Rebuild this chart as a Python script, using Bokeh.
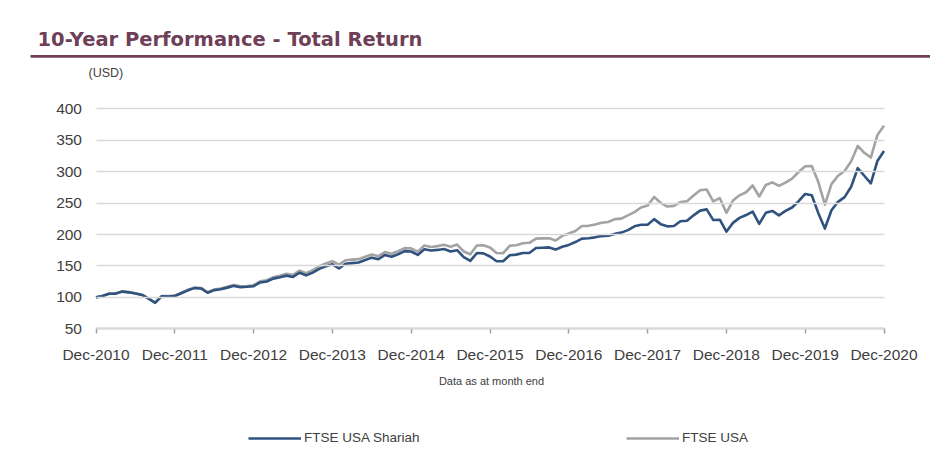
from bokeh.plotting import figure
from bokeh.models import (ColumnDataSource, FixedTicker, Legend, LegendItem, Range1d,
                          LinearAxis, Label, Arrow)
from bokeh.embed import file_html
from bokeh.resources import INLINE

# ---------------- data (month-end index values, Dec-2010 = 100) ----------------
months = list(range(121))  # 0 = Dec-2010 ... 120 = Dec-2020

ftse_usa = [
    100.0, 102.5, 106.0, 106.3, 109.5, 108.3, 106.5, 104.2, 98.5, 91.8, 102.2, 102.0,
    102.8, 107.5, 112.2, 115.6, 115.0, 108.2, 112.4, 114.0, 116.7, 119.6, 117.5, 118.2,
    119.3, 125.5, 127.3, 132.0, 134.4, 137.5, 135.7, 142.6, 138.5, 143.2, 149.5, 153.8,
    157.5, 152.0, 159.0, 160.0, 160.8, 164.5, 168.3, 165.5, 172.2, 169.5, 173.6, 178.3,
    178.0, 172.8, 182.5, 180.2, 181.5, 183.8, 180.6, 184.0, 173.0, 168.5, 182.5, 183.0,
    179.5, 170.5, 170.3, 182.0, 183.0, 186.0, 186.8, 193.5, 193.8, 194.0, 190.5, 197.8,
    201.5, 205.5, 213.5, 213.8, 216.0, 218.6, 220.0, 224.5, 225.3, 230.5, 235.7, 243.0,
    246.0, 259.8, 250.3, 244.5, 245.5, 251.5, 253.0, 262.0, 270.5, 271.5, 252.8, 257.8,
    234.5, 254.0, 262.3, 267.2, 278.0, 260.5, 278.8, 283.0, 277.5, 282.5, 288.8, 299.5,
    308.6, 309.0, 283.5, 247.5, 280.2, 293.5, 301.0, 316.5, 341.0, 330.0, 322.5, 358.5,
    373.0,
]

ftse_usa_shariah = [
    100.0, 102.3, 105.8, 106.0, 109.2, 108.0, 106.2, 103.8, 98.0, 91.3, 101.6, 101.3,
    102.1, 106.6, 111.2, 114.7, 114.2, 107.4, 111.5, 113.0, 115.5, 118.3, 116.2, 116.8,
    117.8, 123.7, 125.3, 129.8, 132.0, 134.6, 132.5, 139.2, 135.0, 139.4, 145.3, 149.3,
    152.6, 146.0, 153.5, 154.5, 155.6, 159.3, 163.2, 160.6, 167.5, 164.5, 168.6, 173.5,
    173.0, 167.5, 176.5, 174.5, 175.5, 177.0, 173.0, 175.0, 164.0, 158.0, 170.5, 170.0,
    165.0, 157.5, 157.5, 167.0, 168.0, 170.5, 170.5, 178.5, 179.0, 179.5, 176.0, 180.5,
    183.5, 188.0, 193.5, 194.0, 195.5, 197.5, 198.0, 201.0, 203.0, 207.0, 213.0, 215.5,
    215.5, 224.5, 216.5, 213.0, 213.5, 221.0, 222.0, 230.5, 238.0, 240.0, 223.0, 223.5,
    204.5, 218.5, 226.5, 231.0, 236.5, 217.0, 234.5, 237.5, 230.5, 237.5, 243.0, 253.0,
    264.5, 262.5, 234.0, 209.5, 238.5, 252.0, 259.5, 276.0, 305.5, 293.5, 281.5, 317.0,
    333.0,
]

x_ticks = [0, 12, 24, 36, 48, 60, 72, 84, 96, 108, 120]
x_tick_labels = ["Dec-2010", "Dec-2011", "Dec-2012", "Dec-2013", "Dec-2014", "Dec-2015",
                 "Dec-2016", "Dec-2017", "Dec-2018", "Dec-2019", "Dec-2020"]
y_ticks = [50, 100, 150, 200, 250, 300, 350, 400]

series_names = ["FTSE USA Shariah", "FTSE USA"]
series_colors = ["#30527F", "#A3A3A3"]

title_text = "10-Year Performance - Total Return"
unit_text = "(USD)"
note_text = "Data as at month end"

# ---------------- layout constants (pixels on the 930x464 page) ----------------
TITLE_COLOR = "#6E3F57"
TEXT_COLOR = "#404040"
GRID_COLOR = "#D9D9D9"
AXIS_COLOR = "#A0A0A0"
FONT = "Liberation Sans"
W, H = 930, 464
PLOT_LEFT, PLOT_RIGHT = 95.5, 883.5     # where the first / last month sit
PLOT_TOP, PLOT_BOTTOM = 108.3, 328.3    # where the top / bottom y tick sit

x0, x1 = months[0], months[-1]
y0, y1 = y_ticks[0], y_ticks[-1]
px_x = (PLOT_RIGHT - PLOT_LEFT) / (x1 - x0)
px_y = (PLOT_BOTTOM - PLOT_TOP) / (y1 - y0)

# the frame covers the whole canvas; ranges chosen so the data area lands where it should
x_range = Range1d(x0 - PLOT_LEFT / px_x, x1 + (W - PLOT_RIGHT) / px_x)
y_range = Range1d(y0 - (H - PLOT_BOTTOM) / px_y, y1 + PLOT_TOP / px_y)

p = figure(width=W, height=H, output_backend="svg", toolbar_location=None,
           x_range=x_range, y_range=y_range,
           x_axis_location=None, y_axis_location=None,
           min_border=0, min_border_left=0, min_border_right=0,
           min_border_top=0, min_border_bottom=0)
p.outline_line_color = None
p.background_fill_color = "white"
p.border_fill_color = "white"
p.grid.visible = False

# y axis placed at the last month; its long ticks form the horizontal grid lines
yaxis = LinearAxis(fixed_location=x1, ticker=FixedTicker(ticks=y_ticks),
                   axis_line_color=None, minor_tick_line_color=None,
                   major_tick_in=0, major_tick_out=int(round(PLOT_RIGHT - PLOT_LEFT)),
                   major_tick_line_color=GRID_COLOR, major_tick_line_width=1.5,
                   major_label_standoff=14, major_label_text_font=FONT,
                   major_label_text_font_size="15.5px", major_label_text_color=TEXT_COLOR)
p.add_layout(yaxis, "left")

xaxis = LinearAxis(fixed_location=y0, bounds=(x0, x1), ticker=FixedTicker(ticks=x_ticks),
                   major_label_overrides={t: l for t, l in zip(x_ticks, x_tick_labels)},
                   axis_line_color=AXIS_COLOR, axis_line_width=1.5,
                   minor_tick_line_color=None, major_tick_in=0, major_tick_out=5,
                   major_tick_line_color=AXIS_COLOR, major_tick_line_width=1.5,
                   major_label_standoff=12, major_label_text_font=FONT,
                   major_label_text_font_size="15.5px", major_label_text_color=TEXT_COLOR)
p.add_layout(xaxis, "below")

src = ColumnDataSource(dict(m=months, usa=ftse_usa, shariah=ftse_usa_shariah))
r_usa = p.line("m", "usa", source=src, line_color=series_colors[1], line_width=2.6,
               line_join="round")
r_sh = p.line("m", "shariah", source=src, line_color=series_colors[0], line_width=2.6,
              line_join="round")

# ---------------- texts and rule (screen units, y measured up from the bottom) ----------------
def up(py):
    return H - py

p.add_layout(Label(x=37, y=up(39), x_units="screen", y_units="screen", text=title_text,
                   text_font="DejaVu Sans", text_font_style="bold", text_font_size="19.5px",
                   text_color=TITLE_COLOR, text_baseline="middle", text_align="left"))
p.add_layout(Arrow(x_start=30, y_start=up(55.8), x_end=W, y_end=up(55.8),
                   start_units="screen", end_units="screen", start=None, end=None,
                   line_color=TITLE_COLOR, line_width=2.8))
p.add_layout(Label(x=88, y=up(72), x_units="screen", y_units="screen", text=unit_text,
                   text_font=FONT, text_font_size="12.5px", text_color=TEXT_COLOR,
                   text_baseline="middle", text_align="left"))
p.add_layout(Label(x=491, y=up(380), x_units="screen", y_units="screen", text=note_text,
                   text_font=FONT, text_font_size="11px", text_color=TEXT_COLOR,
                   text_baseline="middle", text_align="center"))

legend = Legend(items=[LegendItem(label=series_names[0], renderers=[r_sh]),
                       LegendItem(label=series_names[1], renderers=[r_usa])],
                location=(248, up(445)), orientation="horizontal",
                padding=0, margin=0, spacing=205, glyph_width=53, glyph_height=14,
                label_height=14, label_width=117, label_standoff=3,
                label_text_font=FONT, label_text_font_size="13.5px",
                label_text_color=TEXT_COLOR,
                border_line_color=None, background_fill_alpha=0)
p.add_layout(legend)

html = file_html(p, INLINE)
open("out.html", "w").write(html)
